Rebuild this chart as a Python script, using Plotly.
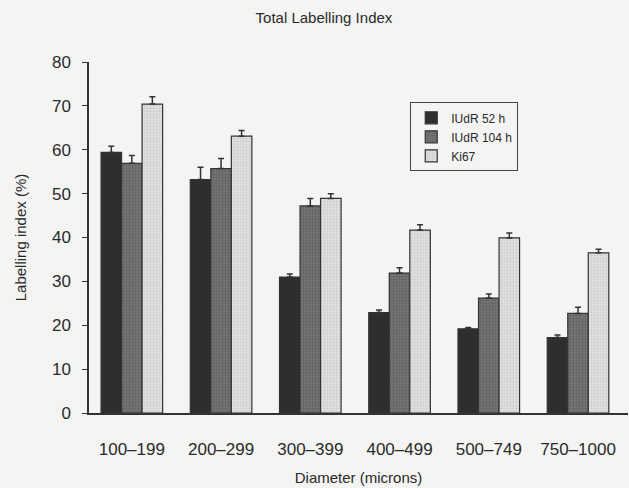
import plotly.graph_objects as go

# Diameter classes of the spheroids
diameters = ["100–199", "200–299", "300–399", "400–499", "500–749", "750–1000"]

# Mean labelling index (%) per marker
iudr_52 = [59.4, 53.2, 31.0, 22.9, 19.2, 17.2]
iudr_104 = [56.9, 55.7, 47.2, 31.9, 26.2, 22.7]
ki67 = [70.4, 63.1, 48.9, 41.7, 39.9, 36.5]

# Standard errors (drawn upward only)
iudr_52_err = [1.4, 2.8, 0.7, 0.6, 0.3, 0.6]
iudr_104_err = [1.8, 2.3, 1.7, 1.2, 0.9, 1.4]
ki67_err = [1.7, 1.3, 1.1, 1.2, 1.1, 0.8]

# name, values, errors, fill, stipple colour
series = [
    ("IUdR 52 h", iudr_52, iudr_52_err, "#2e2e2e", None),
    ("IUdR 104 h", iudr_104, iudr_104_err, "#747474", "#5e5e5e"),
    ("Ki67", ki67, ki67_err, "#e0e0e0", "#cbcbcb"),
]

fig = go.Figure()
for name, vals, errs, color, dots in series:
    marker = dict(color=color, line=dict(color="#333333", width=1.2))
    if dots:
        marker["pattern"] = dict(shape=".", fgcolor=dots, bgcolor=color,
                                 size=3, solidity=0.3, fillmode="replace")
    fig.add_trace(go.Bar(
        x=diameters,
        y=vals,
        name=name,
        marker=marker,
        error_y=dict(
            type="data",
            symmetric=False,
            array=errs,
            arrayminus=[0] * len(errs),
            color="#333333",
            thickness=1.5,
            width=3,
        ),
    ))

font_family = "Liberation Sans, Arial, sans-serif"

fig.update_layout(
    width=629,
    height=488,
    barmode="group",
    bargap=0.31,
    bargroupgap=0,
    paper_bgcolor="#f4f4f3",
    plot_bgcolor="#f4f4f3",
    margin=dict(l=89, r=1, t=62, b=75),
    font=dict(family=font_family, color="#2a2a2a", size=16),
    title=dict(
        text="Total Labelling Index",
        x=0.515, xanchor="center",
        y=0.975, yanchor="top",
        font=dict(size=15, family=font_family, color="#2a2a2a"),
    ),
    showlegend=True,
    legend=dict(
        x=0.596, y=0.885, xanchor="left", yanchor="top",
        bgcolor="#f4f4f3",
        bordercolor="#444444",
        borderwidth=1,
        font=dict(size=12, family=font_family),
        itemwidth=30,
        tracegroupgap=2,
    ),
    xaxis=dict(
        range=[-0.48, 5.56],
        showline=True,
        linecolor="#333333",
        linewidth=1.5,
        ticks="",
        showgrid=False,
        ticklabelstandoff=20,
        tickfont=dict(size=17),
        title=dict(text="Diameter (microns)", font=dict(size=15), standoff=14),
    ),
    yaxis=dict(
        range=[0, 80],
        dtick=10,
        showline=True,
        linecolor="#333333",
        linewidth=1.5,
        ticks="outside",
        ticklen=5,
        tickcolor="#333333",
        showgrid=False,
        zeroline=False,
        ticklabelstandoff=8,
        tickfont=dict(size=17),
        title=dict(text="Labelling index (%)", font=dict(size=15), standoff=22),
    ),
)

fig.write_html("out.html")
